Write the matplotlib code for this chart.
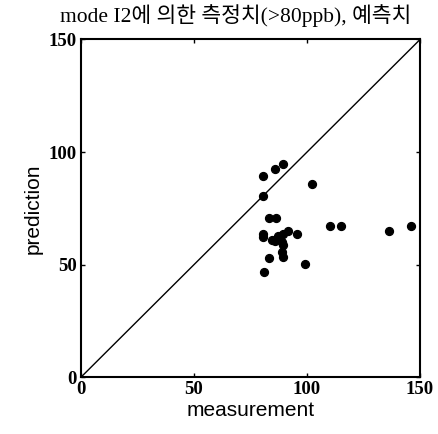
import matplotlib
matplotlib.use("Agg")
import matplotlib.pyplot as plt

# 측정치 / 예측치 (mode I2, >80ppb)
measurement = [80.4, 86.0, 89.4, 102.1, 80.7, 83.3, 86.1, 110.0, 114.9, 136.3, 145.9,
               80.4, 80.7, 84.4, 87.3, 89.5, 91.7, 95.7, 88.8, 89.5, 89.1, 89.5,
               83.2, 99.3, 80.8, 88.0, 86.0]
prediction = [89.2, 92.3, 94.5, 86.0, 80.5, 70.6, 70.9, 67.2, 67.0, 65.1, 67.2,
              63.8, 62.3, 61.1, 62.6, 63.8, 64.9, 63.5, 60.1, 58.6, 55.6, 53.4,
              52.9, 50.2, 46.5, 62.0, 60.5]
ticks = [0, 50, 100, 150]

fig = plt.figure(figsize=(4.38, 4.34), dpi=100)
ax = fig.add_axes([0.185, 0.131, 0.774, 0.778])

ax.plot([0, 150], [0, 150], color="black", lw=1.0)
ax.scatter(measurement, prediction, s=32, color="black", zorder=3)

ax.set_xlim(0, 150)
ax.set_ylim(0, 150)
ax.set_xticks(ticks)
ax.set_yticks(ticks)
ax.tick_params(direction="in", length=3, top=True, right=True, width=1, pad=3)
for lab in ax.get_xticklabels() + ax.get_yticklabels():
    lab.set_family("Liberation Serif")
    lab.set_fontsize(13.5)
    lab.set_fontweight("bold")
for sp in ax.spines.values():
    sp.set_linewidth(1.5)

ax.set_xlabel("measurement", family="Liberation Sans", fontsize=15, labelpad=2)
ax.set_ylabel("prediction", family="Liberation Sans", fontsize=15, labelpad=4)
fig.text(0.539, 0.964, "mode I2에 의한 측정치(>80ppb), 예측치",
         family=["Liberation Serif", "Noto Sans CJK KR"], fontsize=15.5,
         ha="center", va="center")

fig.savefig("out.png", dpi=100)
